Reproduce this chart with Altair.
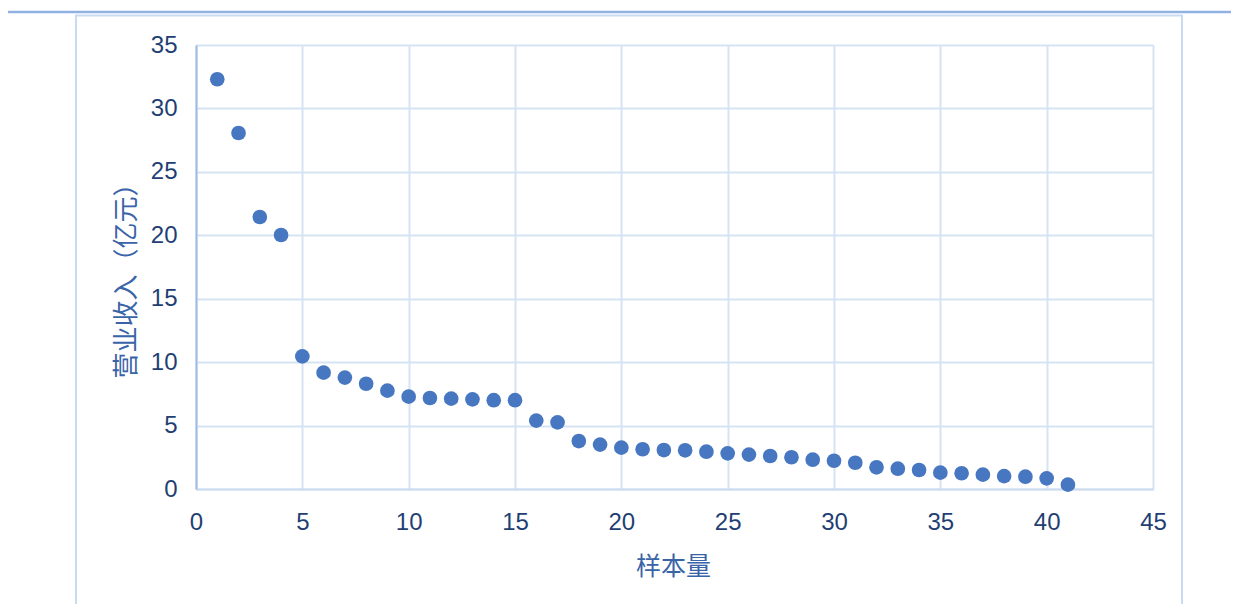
import altair as alt
import pandas as pd

samples = list(range(1, 42))
revenue = [32.3, 28.06, 21.44, 20.02, 10.45, 9.17, 8.78, 8.3, 7.75, 7.28,
           7.17, 7.12, 7.07, 7.0, 7.0, 5.39, 5.25, 3.78, 3.5, 3.26,
           3.13, 3.07, 3.05, 2.94, 2.81, 2.71, 2.6, 2.5, 2.31, 2.23,
           2.07, 1.71, 1.6, 1.5, 1.29, 1.24, 1.13, 1.02, 0.97, 0.84,
           0.34]
x_ticks = [0, 5, 10, 15, 20, 25, 30, 35, 40, 45]
y_ticks = [0, 5, 10, 15, 20, 25, 30, 35]

df = pd.DataFrame({"样本量": samples, "营业收入": revenue})

W, H = 957, 444
PL, PT = 188, 37
PR = 1223 - PL - W
PB = 596 - PT - H

grid = "#d6e3f2"
label_color = "#1f3f73"
title_color = "#3a64a8"

points = alt.Chart(df).mark_circle(size=215, opacity=1, color="#4677c0").encode(
    x=alt.X("样本量:Q",
            scale=alt.Scale(domain=[0, 45], nice=False),
            axis=alt.Axis(values=x_ticks, title="样本量", grid=True,
                          gridColor=grid, gridWidth=2,
                          domainColor="#cddcef", domainWidth=2,
                          ticks=False, labelPadding=21, labelFlush=False,
                          labelFont="Liberation Sans", labelFontSize=24,
                          labelColor=label_color,
                          titleFont="Noto Sans CJK SC", titleFontSize=25,
                          titleFontWeight="normal", titleColor=title_color,
                          titleX=477, titleY=77, titleBaseline="middle",
                          titleAlign="center")),
    y=alt.Y("营业收入:Q",
            scale=alt.Scale(domain=[0, 35], nice=False),
            axis=alt.Axis(values=y_ticks, title="营业收入（亿元）", grid=True,
                          gridColor=grid, gridWidth=2,
                          domainColor="#9dbde6", domainWidth=2,
                          ticks=False, labelPadding=19, labelFlush=False,
                          labelFont="Liberation Sans", labelFontSize=24,
                          labelColor=label_color,
                          titleFont="Noto Sans CJK SC", titleFontSize=26,
                          titleFontWeight="normal", titleColor=title_color,
                          titleX=-70, titleY=229, titleBaseline="middle",
                          titleAlign="center", titleAngle=270)),
)

one = alt.Data(values=[{"k": 1}])

frame = alt.Chart(one).mark_rect(fill=None, stroke="#c9dbf2", strokeWidth=2).encode(
    x=alt.value(-120), x2=alt.value(986), y=alt.value(-29.5), y2=alt.value(600)
)

topline = alt.Chart(one).mark_rule(color="#8fb2e3", strokeWidth=2.5).encode(
    x=alt.value(-188), x2=alt.value(1040), y=alt.value(-33)
)

chart = alt.layer(frame, topline, points).properties(
    width=W, height=H,
    padding={"left": PL, "top": PT, "right": PR, "bottom": PB},
    autosize=alt.AutoSizeParams(type="none"),
).configure_view(stroke=None).configure(background="white")

chart.save("out.html", embed_options={"renderer": "svg", "actions": False})
